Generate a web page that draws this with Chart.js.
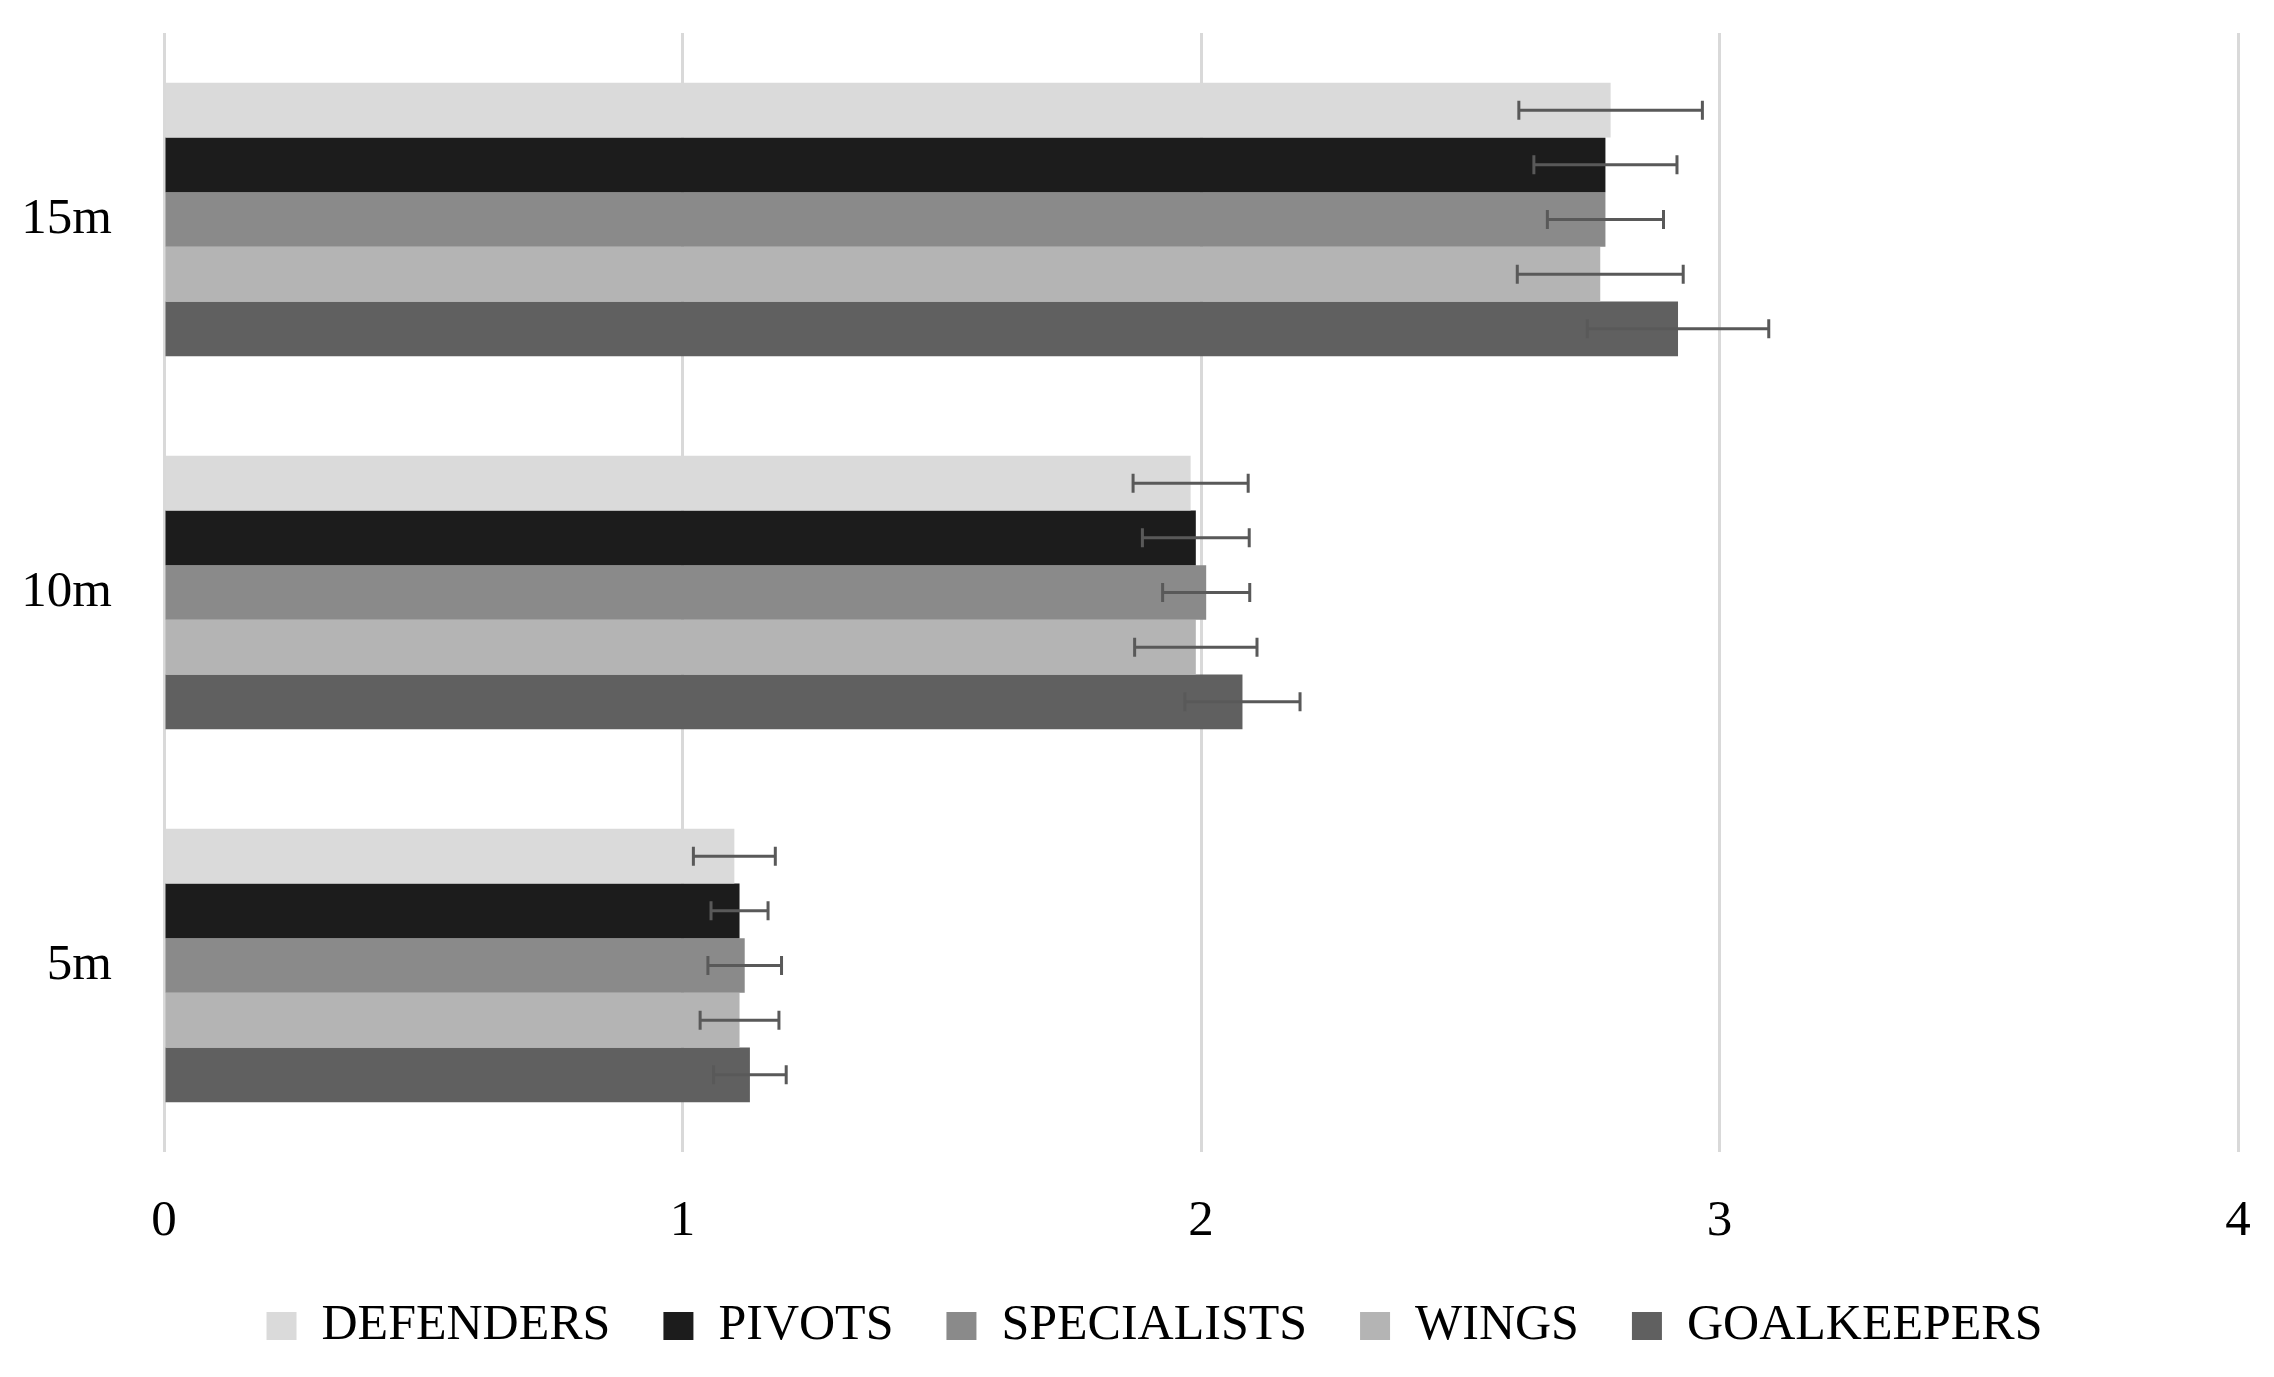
<!DOCTYPE html>
<html>
<head>
<meta charset="utf-8">
<script src="https://cdn.jsdelivr.net/npm/chart.js@4"></script>
<style>
  html, body { margin: 0; padding: 0; background: #fff; }
  #wrap { width: 2274px; height: 1377px; }
</style>
</head>
<body>
<div id="wrap"><canvas id="barChart"></canvas></div>
<script>
const distancias = ['15m', '10m', '5m'];
const posiciones = ['DEFENDERS', 'PIVOTS', 'SPECIALISTS', 'WINGS', 'GOALKEEPERS'];

// media por distancia (15m, 10m, 5m)
const defenders = [2.79, 1.98, 1.10];
const pivots = [2.78, 1.99, 1.11];
const specialists = [2.78, 2.01, 1.12];
const wings = [2.77, 1.99, 1.11];
const goalkeepers = [2.92, 2.08, 1.13];

// desviacion (barras de error)
const defendersErr = [0.177, 0.111, 0.079];
const pivotsErr = [0.138, 0.103, 0.055];
const specialistsErr = [0.112, 0.084, 0.071];
const wingsErr = [0.160, 0.118, 0.076];
const goalkeepersErr = [0.175, 0.111, 0.070];

const xTicks = [0, 1, 2, 3, 4];

const colores = ['#dadada', '#1c1c1c', '#8a8a8a', '#b4b4b4', '#606060'];
const valores = [defenders, pivots, specialists, wings, goalkeepers];
const errores = [defendersErr, pivotsErr, specialistsErr, wingsErr, goalkeepersErr];

const fuente = 'Liberation Serif';

// error bars drawn with the x scale
const errorBars = {
    id: 'errorBars',
    afterLayout(chart) {
        // legend a bit to the right, like the original
        chart.legend.left = 35;
    },
    afterDatasetsDraw(chart) {
        const ctx = chart.ctx;
        const xs = chart.scales.x;
        ctx.save();
        ctx.strokeStyle = '#595959';
        ctx.lineWidth = 3;
        chart.data.datasets.forEach((ds, i) => {
            const meta = chart.getDatasetMeta(i);
            meta.data.forEach((bar, j) => {
                const v = ds.data[j];
                const e = ds.err[j];
                const x1 = xs.getPixelForValue(v - e);
                const x2 = xs.getPixelForValue(v + e);
                const y = bar.y;
                ctx.beginPath();
                ctx.moveTo(x1, y);
                ctx.lineTo(x2, y);
                ctx.moveTo(x1, y - 9.5);
                ctx.lineTo(x1, y + 9.5);
                ctx.moveTo(x2, y - 9.5);
                ctx.lineTo(x2, y + 9.5);
                ctx.stroke();
            });
        });
        ctx.restore();
    }
};

const datasets = posiciones.map((p, i) => ({
    label: p,
    data: valores[i],
    err: errores[i],
    backgroundColor: colores[i],
    borderWidth: 0,
    barPercentage: 1,
    categoryPercentage: 0.733
}));

const ctxBar = document.getElementById('barChart').getContext('2d');

const barChart = new Chart(ctxBar, {
    type: 'bar',
    data: {
        labels: distancias,
        datasets: datasets
    },
    options: {
        indexAxis: 'y',
        responsive: true,
        maintainAspectRatio: false,
        animation: false,
        layout: {
            padding: { top: 33, right: 0, bottom: 16, left: 0 }
        },
        scales: {
            x: {
                min: 0,
                max: 4,
                afterBuildTicks: (scale) => {
                    scale.ticks = xTicks.map(v => ({ value: v }));
                },
                afterFit: (scale) => {
                    scale.height = 96;
                    scale.paddingLeft = 0;
                    scale.paddingRight = 36;
                },
                grid: { color: '#d9d9d9', lineWidth: 3, drawTicks: false },
                border: { display: false },
                ticks: {
                    padding: 49,
                    color: '#000',
                    font: { family: fuente, size: 51, lineHeight: 0.8 }
                }
            },
            y: {
                grid: { display: false, drawTicks: false },
                border: { display: false },
                afterFit: (scale) => {
                    scale.width = 164;
                    scale.paddingTop = 0;
                    scale.paddingBottom = 0;
                },
                ticks: {
                    padding: 52,
                    color: '#000',
                    font: { family: fuente, size: 51 }
                }
            }
        },
        plugins: {
            legend: {
                position: 'bottom',
                labels: {
                    boxWidth: 30,
                    boxHeight: 28,
                    padding: 53,
                    color: '#000',
                    font: { family: fuente, size: 50 }
                }
            },
            tooltip: { enabled: false }
        }
    },
    plugins: [errorBars]
});
</script>
</body>
</html>
